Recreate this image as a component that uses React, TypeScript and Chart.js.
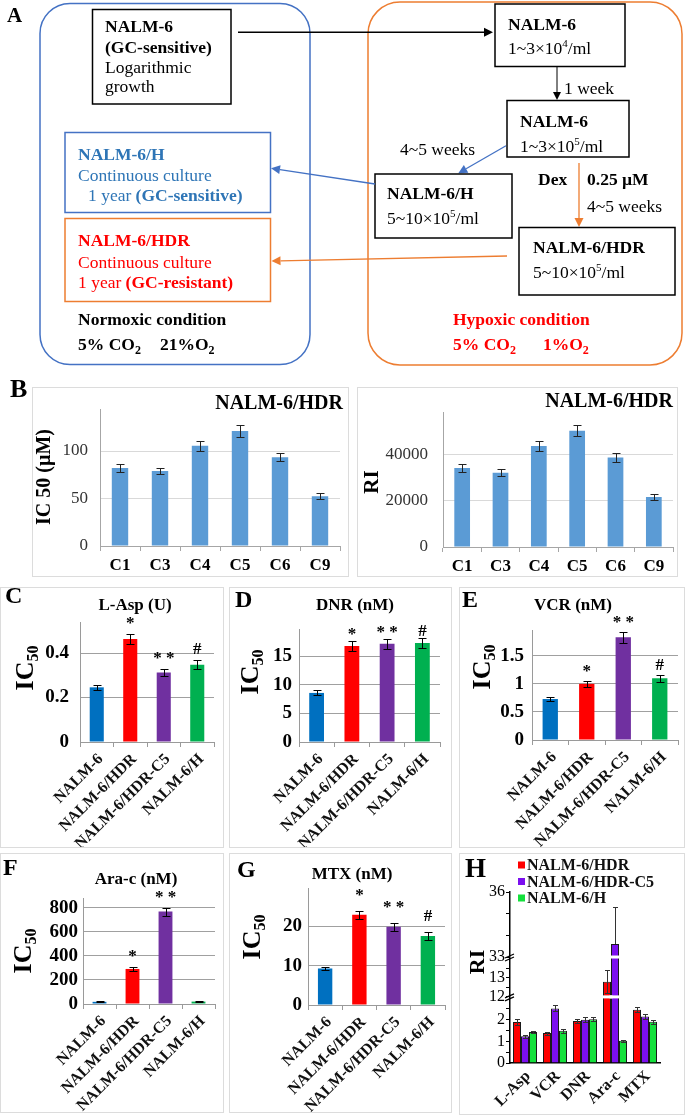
import React, { useEffect, useRef } from 'react';
import { Chart, registerables } from 'chart.js';

Chart.register(...registerables);

const SERIF = "'Liberation Serif', 'Times New Roman', Times, serif";
Chart.defaults.font.family = SERIF;

// ---------- Panel B data ----------
const cloneLabels = ['C1', 'C3', 'C4', 'C5', 'C6', 'C9'];
const cloneIc50 = [82, 79, 105.5, 121, 93.5, 52.5];
const cloneIc50Err = [4, 3.5, 5, 6, 4.5, 3];
const cloneRi = [34000, 32000, 43500, 50000, 38500, 21500];
const cloneRiErr = [1900, 1600, 2200, 2400, 1800, 1100];
const ic50Ticks = [0, 50, 100];
const riTicksB = [0, 20000, 40000];

// ---------- Panels C-G data ----------
const cellLines = ['NALM-6', 'NALM-6/HDR', 'NALM-6/HDR-C5', 'NALM-6/H'];
const cellColors = ['#0070C0', '#FF0000', '#7030A0', '#00B050'];
const lAspIc50 = [0.246, 0.463, 0.313, 0.348];
const lAspErr = [0.011, 0.024, 0.017, 0.02];
const lAspTicks = [0, 0.2, 0.4];
const dnrIc50 = [8.6, 16.8, 17.2, 17.35];
const dnrErr = [0.45, 0.85, 0.85, 0.95];
const dnrTicks = [0, 5, 10, 15];
const vcrIc50 = [0.73, 1.0, 1.83, 1.1];
const vcrErr = [0.04, 0.05, 0.1, 0.06];
const vcrTicks = [0, 0.5, 1, 1.5];
const aracIc50 = [18, 292, 770, 20];
const aracErr = [3, 17, 33, 3];
const aracTicks = [0, 200, 400, 600, 800];
const mtxIc50 = [9.3, 23.0, 19.9, 17.6];
const mtxErr = [0.5, 1.0, 1.0, 0.95];
const mtxTicks = [0, 10, 20];
const sigMarks = ['', '*', '* *', '#'];
const aracMarks = ['', '*', '* *', ''];

// ---------- Panel H data ----------
const riDrugs = ['L-Asp', 'VCR', 'DNR', 'Ara-c', 'MTX'];
const riHdr = [1.89, 1.38, 1.94, 12.8, 2.46];
const riHdrErr = [0.12, 0.07, 0.1, 0.6, 0.12];
const riC5 = [1.23, 2.52, 2.0, 33.6, 2.15];
const riC5Err = [0.06, 0.14, 0.12, 1.7, 0.1];
const riH = [1.43, 1.49, 2.02, 1.03, 1.9];
const riHErr = [0.06, 0.1, 0.08, 0.04, 0.08];
const riColors = ['#FF0000', '#7B0FEF', '#14E03C'];
const riTickVals = [0, 0.5, 1, 1.5, 2, 2.5, 12, 12.5, 13, 13.5, 33, 34, 35, 36];
const riTickText = ['0', '', '1', '', '2', '', '12', '', '13', '', '33', '', '', '36'];
const riBreaks = [12, 33];

// broken-axis mapping for panel H
const SEG1_TOP = 3.05;
const SEG2_TOP = 14.1;
const SEG2_SCALE = 0.876;
function riScale(v: number): number {
  if (v <= SEG1_TOP) return v;
  if (v < 12) return SEG1_TOP;
  if (v <= SEG2_TOP) return SEG1_TOP + (v - 12) * SEG2_SCALE;
  if (v < 33) return SEG1_TOP + (SEG2_TOP - 12) * SEG2_SCALE;
  return SEG1_TOP + (SEG2_TOP - 12) * SEG2_SCALE + (v - 33);
}

type Txt = { t: string; x: number; y: number; font: string; color?: string; align?: CanvasTextAlign; base?: CanvasTextBaseline; rot?: number };
type DSet = { label?: string; data: number[]; err: number[]; color: string | string[]; border?: string };
type Spec = {
  box: number[]; area: number[];
  labels: string[]; sets: DSet[];
  yMax: number; yTicks: number[]; yLabels?: string[];
  yFont: any; yColor: string; yPad: number; yTickLen: number; yTickColor?: string;
  xFont: any; xColor: string; xRot: number; xPad: number; xTickLen: number; xOffset?: number;
  axisColor: string; axisWidth: number; gridColor: string | null;
  barPct: number; catPct: number; errColor: string; cap: number;
  marks?: string[]; markFont?: string; markGap?: number;
  texts: Txt[];
  subTitle?: { main: string; sub: string; x: number; y: number; font: string; subFont: string };
  tf?: (v: number) => number; breaks?: number[]; gaps?: number[][];
  legend?: { x: number; y: number; dy: number; size: number; font: string; color: string };
};

const f = (size: number, bold = false) => `${bold ? 'bold ' : ''}${size}px ${SERIF}`;
const ROT = -Math.PI / 2;

const bCommon = {
  yFont: { size: 17, family: SERIF }, yColor: '#333', yTickLen: 0,
  xFont: { size: 17, weight: 'bold', family: SERIF }, xColor: '#000', xRot: 0, xPad: 4, xTickLen: 5,
  axisColor: '#a6a6a6', axisWidth: 1, gridColor: '#d9d9d9',
  barPct: 0.41, catPct: 1, errColor: '#222', cap: 8,
};

const cgCommon = {
  labels: cellLines,
  yFont: { size: 19, weight: 'bold', family: SERIF }, yColor: '#000', yTickLen: 0,
  xFont: { size: 16, weight: 'bold', family: SERIF }, xColor: '#111', xRot: 45, xPad: 3, xTickLen: 5, xOffset: 4,
  axisColor: '#9a9a9a', axisWidth: 1, gridColor: '#a0a0a0',
  barPct: 0.42, catPct: 1, errColor: '#000', cap: 8, markFont: f(17, true),
};

function icTitle(x: number, y: number) {
  return { main: 'IC', sub: '50', x, y, font: f(26, true), subFont: f(16, true) };
}

const SPECS: Spec[] = [
  {
    ...bCommon,
    box: [32, 387, 317, 190], area: [100, 402, 340, 546],
    labels: cloneLabels, sets: [{ data: cloneIc50, err: cloneIc50Err, color: '#5B9BD5' }],
    yMax: 144, yTicks: ic50Ticks, yPad: 12,
    texts: [
      { t: 'NALM-6/HDR', x: 343, y: 409, font: f(20, true), align: 'right' },
      { t: 'IC 50 (µM)', x: 45, y: 477, font: f(20, true), align: 'center', base: 'middle', rot: ROT },
    ],
  },
  {
    ...bCommon,
    box: [357, 387, 321, 190], area: [443, 400, 673, 547],
    labels: cloneLabels, sets: [{ data: cloneRi, err: cloneRiErr, color: '#5B9BD5' }],
    yMax: 58000, yTicks: riTicksB, yPad: 15,
    texts: [
      { t: 'NALM-6/HDR', x: 673, y: 407, font: f(20, true), align: 'right' },
      { t: 'RI', x: 373, y: 482, font: f(21, true), align: 'center', base: 'middle', rot: ROT },
    ],
  },
  {
    ...cgCommon,
    box: [0, 587, 224, 261], area: [80, 622, 214, 742],
    sets: [{ data: lAspIc50, err: lAspErr, color: cellColors }],
    yMax: 0.54, yTicks: lAspTicks, yPad: 11, marks: sigMarks, markGap: 6,
    texts: [
      { t: 'C', x: 5, y: 603, font: f(24, true) },
      { t: 'L-Asp (U)', x: 135, y: 610, font: f(17, true), align: 'center' },
    ],
    subTitle: icTitle(25, 668),
  },
  {
    ...cgCommon,
    box: [229, 587, 223, 261], area: [299, 629, 440, 742],
    sets: [{ data: dnrIc50, err: dnrErr, color: cellColors }],
    yMax: 19.8, yTicks: dnrTicks, yPad: 7, marks: sigMarks, markGap: 2,
    texts: [
      { t: 'D', x: 235, y: 607, font: f(24, true) },
      { t: 'DNR (nM)', x: 355, y: 610, font: f(17, true), align: 'center' },
    ],
    subTitle: icTitle(250, 672),
  },
  {
    ...cgCommon,
    box: [459, 587, 226, 261], area: [532, 630, 678, 740],
    sets: [{ data: vcrIc50, err: vcrErr, color: cellColors }],
    yMax: 1.96, yTicks: vcrTicks, yPad: 8, marks: sigMarks, markGap: 5,
    texts: [
      { t: 'E', x: 462, y: 607, font: f(24, true) },
      { t: 'VCR (nM)', x: 573, y: 610, font: f(17, true), align: 'center' },
    ],
    subTitle: icTitle(482, 667),
  },
  {
    ...cgCommon,
    box: [0, 853, 224, 260], area: [83, 898, 215, 1004],
    sets: [{ data: aracIc50, err: aracErr, color: cellColors }],
    yMax: 883, yTicks: aracTicks, yPad: 5, marks: aracMarks, markGap: 6,
    texts: [
      { t: 'F', x: 3, y: 875, font: f(24, true) },
      { t: 'Ara-c (nM)', x: 136, y: 884, font: f(17, true), align: 'center' },
    ],
    subTitle: icTitle(23, 951),
  },
  {
    ...cgCommon,
    box: [229, 853, 223, 260], area: [308, 888, 445, 1005],
    sets: [{ data: mtxIc50, err: mtxErr, color: cellColors }],
    yMax: 29.8, yTicks: mtxTicks, yPad: 6, marks: sigMarks, markGap: 11,
    texts: [
      { t: 'G', x: 237, y: 877, font: f(24, true) },
      { t: 'MTX (nM)', x: 352, y: 879, font: f(17, true), align: 'center' },
    ],
    subTitle: icTitle(252, 937),
  },
  {
    box: [459, 853, 226, 262], area: [510, 892, 660, 1063],
    labels: riDrugs,
    sets: [
      { label: cellLines[1], data: riHdr, err: riHdrErr, color: riColors[0], border: '#1a1a1a' },
      { label: cellLines[2], data: riC5, err: riC5Err, color: riColors[1], border: '#1a1a1a' },
      { label: cellLines[3], data: riH, err: riHErr, color: riColors[2], border: '#1a1a1a' },
    ],
    yMax: riScale(36), yTicks: riTickVals, yLabels: riTickText,
    yFont: { size: 16, family: SERIF }, yColor: '#000', yPad: 1, yTickLen: 4, yTickColor: '#000',
    xFont: { size: 16, weight: 'bold', family: SERIF }, xColor: '#111', xRot: 45, xPad: 4, xTickLen: 0, xOffset: 3,
    axisColor: '#000', axisWidth: 1.5, gridColor: null,
    barPct: 1, catPct: 0.8, errColor: '#333', cap: 5,
    tf: riScale, breaks: riBreaks, gaps: [[SEG1_TOP, 12], [SEG2_TOP, 33]],
    legend: { x: 518, y: 865, dy: 16.5, size: 7, font: f(16, true), color: '#111' },
    texts: [
      { t: 'H', x: 465, y: 877, font: f(27, true) },
      { t: 'RI', x: 478, y: 962, font: f(22, true), align: 'center', base: 'middle', rot: ROT },
    ],
  },
];

function makeChart(canvas: HTMLCanvasElement, s: Spec): Chart {
  const [bx, by, bw, bh] = s.box;
  const [al, at, ar, ab] = s.area;
  const tf = s.tf || ((v: number) => v);
  const inGap = (v: number) => (s.gaps || []).some((g) => v > g[0] && v < g[1]);

  const decor = {
    id: 'decor',
    afterDatasetsDraw(chart: any) {
      const ctx = chart.ctx as CanvasRenderingContext2D;
      const ys = chart.scales.y;
      ctx.save();
      if (s.breaks) {
        ctx.fillStyle = '#ffffff';
        s.sets.forEach((d, di) => {
          chart.getDatasetMeta(di).data.forEach((bar: any, i: number) => {
            s.breaks!.forEach((b) => {
              if (d.data[i] > b) {
                const py = ys.getPixelForValue(tf(b));
                ctx.fillRect(bar.x - bar.width / 2 - 1.5, py - 1.5, bar.width + 3, 3);
              }
            });
          });
        });
      }
      ctx.strokeStyle = s.errColor;
      ctx.lineWidth = 1;
      s.sets.forEach((d, di) => {
        chart.getDatasetMeta(di).data.forEach((bar: any, i: number) => {
          const v = d.data[i];
          const e = d.err[i];
          const x = Math.round(bar.x) + 0.5;
          const top = Math.round(ys.getPixelForValue(tf(v + e))) + 0.5;
          const oneSided = inGap(v - e);
          const bot = oneSided ? ys.getPixelForValue(tf(v)) : Math.round(ys.getPixelForValue(tf(v - e))) + 0.5;
          const h = s.cap / 2;
          ctx.beginPath();
          ctx.moveTo(x, top); ctx.lineTo(x, bot);
          ctx.moveTo(x - h, top); ctx.lineTo(x + h, top);
          if (!oneSided) { ctx.moveTo(x - h, bot); ctx.lineTo(x + h, bot); }
          ctx.stroke();
        });
      });
      ctx.restore();
    },
    afterDraw(chart: any) {
      const ctx = chart.ctx as CanvasRenderingContext2D;
      const ys = chart.scales.y;
      ctx.save();
      if (s.marks) {
        ctx.font = s.markFont || f(16, true);
        ctx.fillStyle = '#000';
        ctx.textAlign = 'center';
        ctx.textBaseline = 'alphabetic';
        const d = s.sets[0];
        chart.getDatasetMeta(0).data.forEach((bar: any, i: number) => {
          const m = s.marks![i];
          if (!m) return;
          const top = ys.getPixelForValue(tf(d.data[i] + d.err[i]));
          ctx.fillText(m, bar.x, top - (s.markGap || 5));
        });
      }
      if (s.breaks) {
        const ax = chart.chartArea.left;
        ctx.strokeStyle = '#000';
        ctx.lineWidth = 1.2;
        s.breaks.forEach((b) => {
          const py = ys.getPixelForValue(tf(b));
          ctx.beginPath();
          ctx.moveTo(ax - 5, py + 1); ctx.lineTo(ax + 4, py - 3);
          ctx.moveTo(ax - 5, py + 4); ctx.lineTo(ax + 4, py);
          ctx.stroke();
        });
      }
      s.texts.forEach((t) => {
        ctx.save();
        ctx.translate(t.x - bx, t.y - by);
        if (t.rot) ctx.rotate(t.rot);
        ctx.font = t.font;
        ctx.fillStyle = t.color || '#000';
        ctx.textAlign = t.align || 'left';
        ctx.textBaseline = t.base || 'alphabetic';
        ctx.fillText(t.t, 0, 0);
        ctx.restore();
      });
      if (s.subTitle) {
        const st = s.subTitle;
        ctx.save();
        ctx.translate(st.x - bx + 8, st.y - by);
        ctx.rotate(ROT);
        ctx.font = st.font;
        const w1 = ctx.measureText(st.main).width;
        ctx.font = st.subFont;
        const w2 = ctx.measureText(st.sub).width;
        const x0 = -(w1 + w2) / 2;
        ctx.fillStyle = '#000';
        ctx.textAlign = 'left';
        ctx.textBaseline = 'alphabetic';
        ctx.font = st.font;
        ctx.fillText(st.main, x0, 0);
        ctx.font = st.subFont;
        ctx.fillText(st.sub, x0 + w1, 5);
        ctx.restore();
      }
      if (s.legend) {
        const L = s.legend;
        s.sets.forEach((d, i) => {
          const y = L.y - by + i * L.dy;
          ctx.fillStyle = d.color as string;
          ctx.fillRect(L.x - bx, y - L.size / 2, L.size, L.size);
          ctx.fillStyle = L.color;
          ctx.font = L.font;
          ctx.textAlign = 'left';
          ctx.textBaseline = 'middle';
          ctx.fillText(d.label || '', L.x - bx + L.size + 2, y + 1);
        });
      }
      ctx.restore();
    },
  };

  return new Chart(canvas, {
    type: 'bar',
    data: {
      labels: s.labels,
      datasets: s.sets.map((d) => ({
        label: d.label || '',
        data: d.data.map(tf),
        backgroundColor: d.color as any,
        borderColor: d.border || 'rgba(0,0,0,0)',
        borderWidth: d.border ? 1 : 0,
        barPercentage: s.barPct,
        categoryPercentage: s.catPct,
      })),
    },
    options: {
      responsive: false,
      maintainAspectRatio: false,
      animation: false,
      devicePixelRatio: 1,
      events: [],
      layout: { padding: { left: 0, top: at - by, right: bx + bw - ar, bottom: 0 } },
      plugins: { legend: { display: false }, title: { display: false }, tooltip: { enabled: false } },
      scales: {
        x: {
          offset: true,
          grid: { display: s.xTickLen > 0, drawOnChartArea: false, drawTicks: true, tickLength: s.xTickLen, color: s.axisColor, offset: true },
          border: { display: true, color: s.axisColor, width: s.axisWidth },
          ticks: {
            font: s.xFont, color: s.xColor, minRotation: s.xRot, maxRotation: s.xRot,
            padding: s.xPad, autoSkip: false, labelOffset: s.xOffset || 0,
          },
          afterFit: (sc: any) => { sc.height = by + bh - ab; },
        },
        y: {
          min: 0,
          max: s.yMax,
          grid: {
            display: true,
            drawOnChartArea: !!s.gridColor,
            color: s.gridColor || s.axisColor,
            drawTicks: s.yTickLen > 0,
            tickLength: s.yTickLen,
            tickColor: s.yTickColor || s.axisColor,
          },
          border: { display: true, color: s.axisColor, width: s.axisWidth },
          ticks: {
            font: s.yFont,
            color: s.yColor,
            padding: s.yPad,
            autoSkip: false,
            callback: (_v: any, i: number) => (s.yLabels ? s.yLabels[i] : String(s.yTicks[i])),
          },
          afterBuildTicks: (sc: any) => { sc.ticks = s.yTicks.map((v) => ({ value: tf(v) })); },
          afterFit: (sc: any) => { sc.width = al - bx; },
        },
      },
    } as any,
    plugins: [decor],
  });
}

// ---------- Panel A (flow diagram) drawn on a plain canvas ----------
type Run = [string, { b?: boolean; s?: number; dy?: number }?];
const BLUE_T = '#2E75B6';
const RED_T = '#FF0000';
const BLUE_L = '#4472C4';
const ORANGE_L = '#ED7D31';

function drawPanelA(ctx: CanvasRenderingContext2D) {
  ctx.clearRect(0, 0, 685, 400);
  ctx.textBaseline = 'alphabetic';
  ctx.textAlign = 'left';
  const text = (x: number, y: number, runs: Run[], color = '#000') => {
    let cx = x;
    runs.forEach(([t, o]) => {
      const opt = o || {};
      ctx.font = f(opt.s || 17.5, !!opt.b);
      ctx.fillStyle = color;
      ctx.fillText(t, cx, y + (opt.dy || 0));
      cx += ctx.measureText(t).width;
    });
  };
  const rrect = (x: number, y: number, w: number, h: number, r: number, color: string) => {
    ctx.beginPath();
    ctx.moveTo(x + r, y);
    ctx.arcTo(x + w, y, x + w, y + h, r);
    ctx.arcTo(x + w, y + h, x, y + h, r);
    ctx.arcTo(x, y + h, x, y, r);
    ctx.arcTo(x, y, x + w, y, r);
    ctx.closePath();
    ctx.strokeStyle = color;
    ctx.lineWidth = 1.5;
    ctx.stroke();
  };
  const box = (x: number, y: number, w: number, h: number, color: string) => {
    ctx.fillStyle = '#fff';
    ctx.fillRect(x, y, w, h);
    ctx.strokeStyle = color;
    ctx.lineWidth = 1.5;
    ctx.strokeRect(x, y, w, h);
  };
  const arrow = (x1: number, y1: number, x2: number, y2: number, color: string, w = 1.3, head = 9, hw = 4.5) => {
    const L = Math.hypot(x2 - x1, y2 - y1);
    const ux = (x2 - x1) / L;
    const uy = (y2 - y1) / L;
    const bx = x2 - ux * head;
    const by = y2 - uy * head;
    ctx.strokeStyle = color;
    ctx.lineWidth = w;
    ctx.beginPath();
    ctx.moveTo(x1, y1);
    ctx.lineTo(bx, by);
    ctx.stroke();
    ctx.fillStyle = color;
    ctx.beginPath();
    ctx.moveTo(x2, y2);
    ctx.lineTo(bx - uy * hw, by + ux * hw);
    ctx.lineTo(bx + uy * hw, by - ux * hw);
    ctx.closePath();
    ctx.fill();
  };
  const per = (base: string, exp: string): Run[] => [[base], [exp, { s: 11, dy: -7 }], ['/ml']];
  const co2 = (pre: string): Run[] => [[pre, { b: true }], ['2', { b: true, s: 12, dy: 4 }]];

  text(7, 22, [['A', { b: true, s: 21 }]]);
  text(10, 397, [['B', { b: true, s: 26 }]]);

  rrect(40, 3.5, 270, 361, 30, BLUE_L);
  rrect(368, 2, 314, 363, 32, ORANGE_L);

  box(92.5, 9.5, 138.5, 94.5, '#000');
  text(105, 32, [['NALM-6', { b: true }]]);
  text(105, 52.5, [['(GC-sensitive)', { b: true }]]);
  text(105, 72.5, [['Logarithmic']]);
  text(105, 91.5, [['growth']]);
  arrow(238, 32.3, 493, 32.3, '#000', 1.5);

  box(65, 132.5, 205.5, 80, BLUE_L);
  text(78, 160, [['NALM-6/H', { b: true }]], BLUE_T);
  text(78, 181, [['Continuous culture']], BLUE_T);
  text(88, 200.5, [['1 year '], ['(GC-sensitive)', { b: true }]], BLUE_T);

  box(65, 218.5, 205.5, 83, ORANGE_L);
  text(78, 246, [['NALM-6/HDR', { b: true }]], RED_T);
  text(78, 267.5, [['Continuous culture']], RED_T);
  text(78, 288, [['1 year '], ['(GC-resistant)', { b: true }]], RED_T);

  text(78, 325, [['Normoxic condition', { b: true }]]);
  text(78, 350, co2('5% CO'));
  text(160, 350, co2('21%O'));

  box(495, 4, 130, 62.5, '#000');
  text(508, 30, [['NALM-6', { b: true }]]);
  text(508, 54, per('1~3×10', '4'));
  arrow(557, 67, 557, 100, '#000', 1, 8, 4);
  text(564, 94, [['1 week']]);

  box(507, 100.5, 122, 56.5, '#000');
  text(520, 127, [['NALM-6', { b: true }]]);
  text(520, 152, per('1~3×10', '5'));

  text(400, 155, [['4~5 weeks']]);
  arrow(506, 145.7, 458.3, 173.3, BLUE_L);

  box(375, 174, 137, 64, '#000');
  text(387, 199, [['NALM-6/H', { b: true }]]);
  text(387, 224, per('5~10×10', '5'));
  arrow(375, 184, 271, 168.3, BLUE_L);

  text(538, 185, [['Dex', { b: true }]]);
  text(587, 185, [['0.25 µM', { b: true }]]);
  arrow(579, 163, 579, 227, ORANGE_L);
  text(587, 212, [['4~5 weeks']]);

  box(519, 227.5, 156, 67.5, '#000');
  text(533, 253, [['NALM-6/HDR', { b: true }]]);
  text(533, 278, per('5~10×10', '5'));
  arrow(507, 256, 271.5, 261, ORANGE_L);

  text(453, 325, [['Hypoxic condition', { b: true }]], RED_T);
  text(453, 350, co2('5% CO'), RED_T);
  text(543, 350, co2('1%O'), RED_T);
}

export default function App() {
  const refs = useRef<(HTMLCanvasElement | null)[]>([]);
  const aRef = useRef<HTMLCanvasElement | null>(null);
  useEffect(() => {
    const actx = aRef.current!.getContext('2d')!;
    drawPanelA(actx);
    const charts = SPECS.map((s, i) => makeChart(refs.current[i]!, s));
    return () => charts.forEach((c) => c.destroy());
  }, []);
  return (
    <div style={{ position: 'absolute', left: 0, top: 0, width: 685, height: 1116, background: '#fff', overflow: 'hidden' }}>
      <canvas ref={aRef} width={685} height={400} style={{ position: 'absolute', left: 0, top: 0, width: 685, height: 400 }} />
      {SPECS.map((s, i) => (
        <canvas
          key={i}
          ref={(el) => { refs.current[i] = el; }}
          width={s.box[2]}
          height={s.box[3]}
          style={{
            position: 'absolute',
            left: s.box[0],
            top: s.box[1],
            width: s.box[2],
            height: s.box[3],
            outline: '1px solid #dcdcdc',
            outlineOffset: '-1px',
          }}
        />
      ))}
    </div>
  );
}
